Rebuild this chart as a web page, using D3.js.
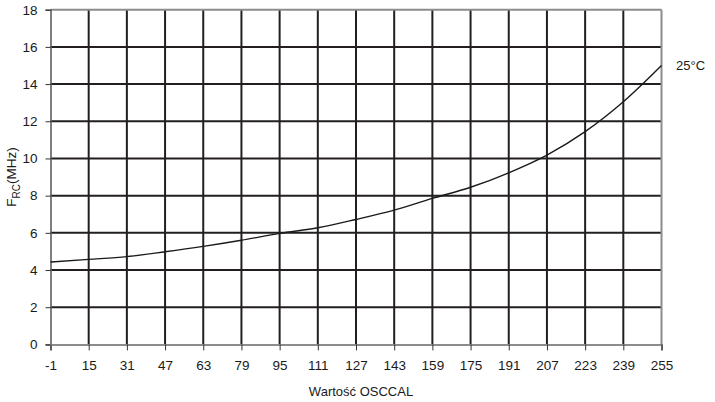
<!DOCTYPE html>
<html><head><meta charset="utf-8">
<script src="https://cdn.jsdelivr.net/npm/d3@7"></script>
<style>body{margin:0;background:#fff}svg{display:block}text{font-family:"Liberation Sans",Arial,sans-serif;fill:#1a1a1a}</style>
</head><body><svg id="c" width="715" height="402"></svg>
<script>
const xTicks = [-1,15,31,47,63,79,95,111,127,143,159,175,191,207,223,239,255];
const yTicks = [0,2,4,6,8,10,12,14,16,18];
const osccal = [-1,15,31,47,63,79,95,111,127,143,159,175,191,207,223,239,255];
const freq25 = [4.43,4.57,4.72,4.98,5.27,5.6,5.97,6.27,6.72,7.22,7.85,8.45,9.23,10.18,11.44,13.05,15.0];
const seriesLabel = "25°C";
const xTitle = "Wartość OSCCAL";

const svg = d3.select("#c");
const m = {l:50.5, r:661.5, t:9.7, b:344.4};
const x = d3.scaleLinear().domain([-1,255]).range([m.l,m.r]);
const y = d3.scaleLinear().domain([0,18]).range([m.b,m.t]);

// grid
svg.append("g").selectAll("line").data(yTicks.filter(d=>d>0&&d<18)).join("line")
  .attr("x1",m.l).attr("x2",m.r).attr("y1",d=>y(d)).attr("y2",d=>y(d))
  .attr("stroke","#231f20").attr("stroke-width",2);
svg.append("g").selectAll("line").data(xTicks.filter(d=>d>-1&&d<255)).join("line")
  .attr("y1",m.t).attr("y2",m.b).attr("x1",d=>x(d)).attr("x2",d=>x(d))
  .attr("stroke","#231f20").attr("stroke-width",2);

// frame
svg.append("line").attr("x1",m.l).attr("x2",m.r).attr("y1",m.t).attr("y2",m.t).attr("stroke","#8a8c8e").attr("stroke-width",2);
svg.append("line").attr("x1",m.r).attr("x2",m.r).attr("y1",m.t).attr("y2",m.b).attr("stroke","#8a8c8e").attr("stroke-width",2);

// axes
const ya = d3.axisLeft(y).tickValues(yTicks).tickSize(5).tickPadding(8).tickFormat(d=>String(d));
const gy = svg.append("g").attr("transform",`translate(${m.l},0)`).call(ya);
gy.select(".domain").attr("stroke","#555").attr("stroke-width",1.5);
gy.selectAll(".tick line").attr("stroke","#333");
gy.selectAll("text").style("font-size","13.5px").attr("fill","#1a1a1a");

const xa = d3.axisBottom(x).tickValues(xTicks).tickSize(6).tickPadding(10).tickFormat(d=>String(d));
const gx = svg.append("g").attr("transform",`translate(0,${m.b})`).call(xa);
gx.select(".domain").attr("stroke","#8a8c8e").attr("stroke-width",2);
gx.selectAll(".tick line").attr("stroke","#333");
gx.selectAll("text").style("font-size","13.5px").attr("fill","#1a1a1a");

// curve
const line = d3.line().x((d,i)=>x(osccal[i])).y(d=>y(d)).curve(d3.curveMonotoneX);
svg.append("path").datum(freq25).attr("d",line).attr("fill","none").attr("stroke","#1a1a1a").attr("stroke-width",1.4);

// labels
svg.append("text").attr("x",676).attr("y",70).style("font-size","13px").text(seriesLabel);
svg.append("text").attr("x",(m.l+m.r)/2+5).attr("y",396).attr("text-anchor","middle").style("font-size","13px").text(xTitle);
const yl = svg.append("text").attr("transform",`translate(16,${(m.t+m.b)/2}) rotate(-90)`).attr("text-anchor","middle").style("font-size","13.5px");
yl.append("tspan").text("F");
yl.append("tspan").attr("dy",4).style("font-size","10px").text("RC");
yl.append("tspan").attr("dy",-4).text("(MHz)");
</script></body></html>
